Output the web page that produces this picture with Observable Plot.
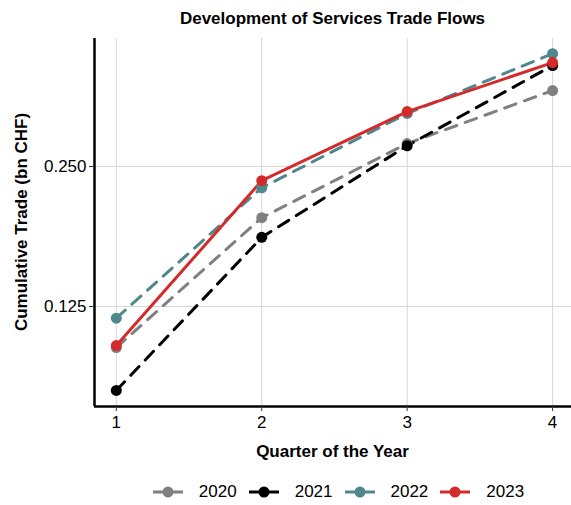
<!DOCTYPE html>
<html>
<head>
<meta charset="utf-8">
<script src="https://cdn.jsdelivr.net/npm/d3@7"></script>
<script src="https://cdn.jsdelivr.net/npm/@observablehq/plot@0.6"></script>
<style>
  html, body { margin: 0; padding: 0; background: #fff; }
  #wrap { position: relative; width: 571px; height: 505px; font-family: "Liberation Sans", Arial, sans-serif; color: #000; }
  #wrap svg.plot { position: absolute; left: 0; top: 0; }
  .title { position: absolute; left: 94px; width: 477px; top: 9px; text-align: center; font-weight: bold; font-size: 17px; }
  .xlab { position: absolute; left: 94px; width: 477px; top: 442px; text-align: center; font-weight: bold; font-size: 17px; }
  .ylab { position: absolute; left: 22px; top: 222px; transform: translate(-50%, -50%) rotate(-90deg); white-space: nowrap; font-weight: bold; font-size: 17px; }
  .legend { position: absolute; left: 100px; width: 477px; top: 482px; display: flex; justify-content: center; align-items: center; font-size: 17px; }
  .legend .item { display: flex; align-items: center; margin: 0 6px; }
  .legend svg { margin-right: 16px; }
</style>
</head>
<body>
<div id="wrap">
  <div class="title">Development of Services Trade Flows</div>
  <div class="ylab">Cumulative Trade (bn CHF)</div>
  <div class="xlab">Quarter of the Year</div>
  <div class="legend" id="legend"></div>
</div>
<script>
const quarters = [1, 2, 3, 4];
const years = ["2020", "2021", "2022", "2023"];
const values2020 = [0.102, 0.194, 0.280, 0.364];
const values2021 = [0.0825, 0.176, 0.277, 0.412];
const values2022 = [0.118, 0.225, 0.325, 0.437];
const values2023 = [0.103, 0.233, 0.328, 0.418];
const yTicks = [0.125, 0.25];
const colors = ["#808080", "#000000", "#4f878c", "#d42a2a"];

const series = [values2020, values2021, values2022, values2023];
const data = years.flatMap((yr, i) => quarters.map((q, j) => ({quarter: q, value: series[i][j], year: yr})));

const xDomain = [0.85, 4.13];
const yDomain = [0.0762, 0.471];

const plot = Plot.plot({
  width: 571,
  height: 470,
  marginTop: 38,
  marginBottom: 64,
  marginLeft: 94,
  marginRight: 0,
  style: {fontFamily: "Liberation Sans, Arial, sans-serif", fontSize: "17px", color: "#000", background: "transparent"},
  x: {domain: xDomain, label: null},
  y: {type: "log", base: 2, domain: yDomain, label: null},
  color: {domain: years, range: colors},
  marks: [
    Plot.gridX(quarters, {stroke: "#d6d6d6", strokeOpacity: 1, strokeWidth: 1}),
    Plot.gridY(yTicks, {stroke: "#d6d6d6", strokeOpacity: 1, strokeWidth: 1}),
    Plot.line(data.filter(d => d.year !== "2023"), {x: "quarter", y: "value", z: "year", stroke: "year", strokeWidth: 3, strokeDasharray: "12,9"}),
    Plot.line(data.filter(d => d.year === "2023"), {x: "quarter", y: "value", z: "year", stroke: "year", strokeWidth: 3}),
    Plot.dot(data, {x: "quarter", y: "value", fill: "year", r: 5.5}),
    Plot.ruleX([xDomain[0]], {stroke: "#000", strokeWidth: 2.5}),
    Plot.ruleY([yDomain[0]], {stroke: "#000", strokeWidth: 2.5}),
    Plot.axisX(quarters, {tickSize: 5, tickPadding: 4, tickFormat: d => String(d), label: null, stroke: "#333"}),
    Plot.axisY(yTicks, {tickSize: 5, tickPadding: 3, tickFormat: d3.format(".3f"), label: null, stroke: "#333"})
  ]
});
plot.classList.add("plot");
document.getElementById("wrap").prepend(plot);

const legend = document.getElementById("legend");
years.forEach((yr, i) => {
  const item = document.createElement("div");
  item.className = "item";
  item.innerHTML = `<svg width="30" height="14"><line x1="0" y1="7" x2="30" y2="7" stroke="${colors[i]}" stroke-width="3"/><circle cx="15" cy="7" r="5.5" fill="${colors[i]}"/></svg><span>${yr}</span>`;
  legend.appendChild(item);
});
</script>
</body>
</html>
